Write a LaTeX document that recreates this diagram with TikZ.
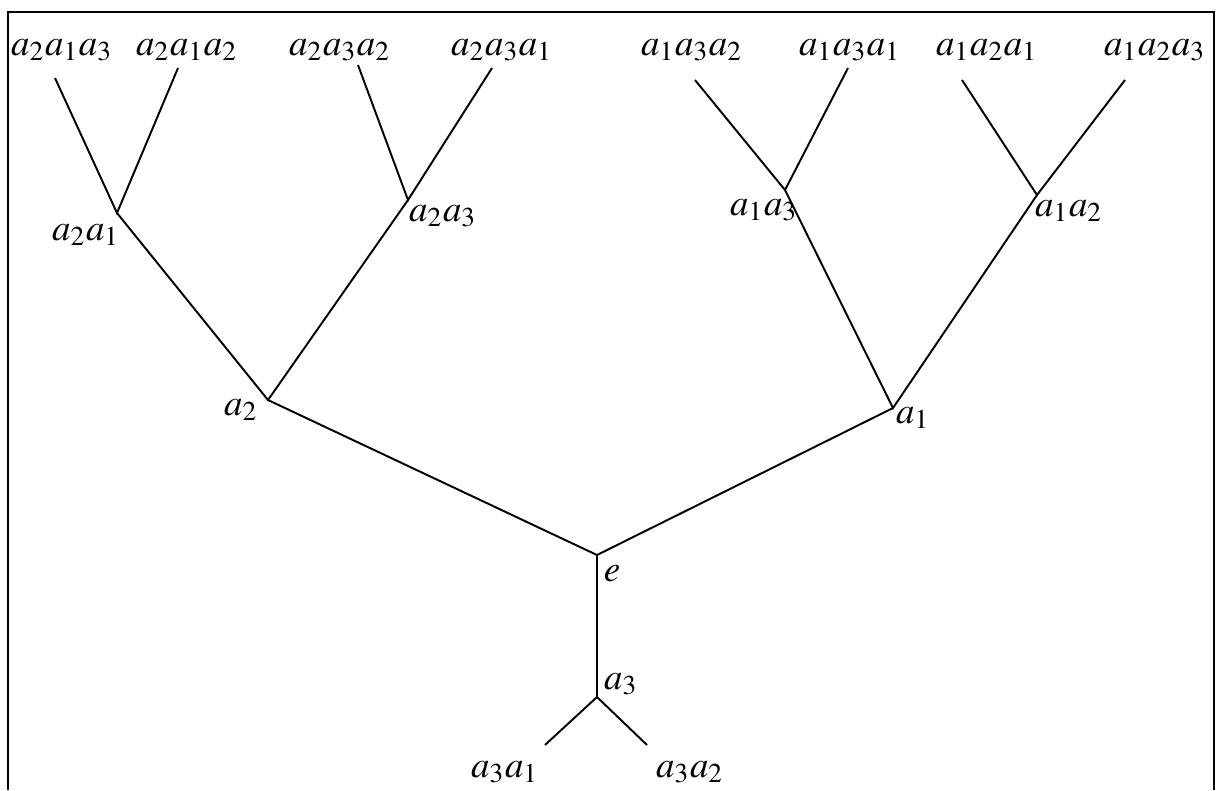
\documentclass[tikz,border=0pt]{standalone}
\usepackage{mathptmx}
\tikzset{lbl/.style={inner sep=0pt, font=\fontsize{10.5}{12}\selectfont},
  edge/.style={line width=0.55pt}}
\begin{document}
\begin{tikzpicture}[x=0.01cm, y=-0.01cm]
\useasboundingbox (0,0) rectangle (1221,790);
\draw[line width=0.7pt] (8,790) -- (8,12) -- (1214,12) -- (1214,790); %%frame
\coordinate (e) at (597,555);
\coordinate (a3) at (597,697);
\coordinate (a2) at (268,400);
\coordinate (a1) at (893,408);
\coordinate (a2a1) at (117,213);
\coordinate (a2a3) at (408,200);
\coordinate (a1a3) at (785,190);
\coordinate (a1a2) at (1037,195);
\coordinate (a3a1) at (545,745);
\coordinate (a3a2) at (647,745);
\coordinate (a2a1a3) at (55,78);
\coordinate (a2a1a2) at (178,68);
\coordinate (a2a3a2) at (358,65);
\coordinate (a2a3a1) at (492,68);
\coordinate (a1a3a2) at (695,80);
\coordinate (a1a3a1) at (848,68);
\coordinate (a1a2a1) at (962,80);
\coordinate (a1a2a3) at (1125,80);
%% edges
\draw[edge] (a2) -- (e) -- (a1);
\draw[edge] (e) -- (a3);
\draw[edge] (a3a1) -- (a3) -- (a3a2);
\draw[edge] (a2a1) -- (a2) -- (a2a3);
\draw[edge] (a1a3) -- (a1) -- (a1a2);
\draw[edge] (a2a1a3) -- (a2a1) -- (a2a1a2);
\draw[edge] (a2a3a2) -- (a2a3) -- (a2a3a1);
\draw[edge] (a1a3a2) -- (a1a3) -- (a1a3a1);
\draw[edge] (a1a2a1) -- (a1a2) -- (a1a2a3);
%% labels
\node[lbl] (t-e) at (612,574) {$e$};
\node[lbl] (t-a3) at (621,684) {$a_3$};
\node[lbl] (t-a2) at (241,410) {$a_2$};
\node[lbl] (t-a1) at (913,418) {$a_1$};
\node[lbl] (t-a3a1) at (505,772) {$a_3a_1$};
\node[lbl] (t-a3a2) at (690,772) {$a_3a_2$};
\node[lbl] (t-a2a1) at (86,235) {$a_2a_1$};
\node[lbl] (t-a2a3) at (443,216) {$a_2a_3$};
\node[lbl] (t-a1a3) at (764,210) {$a_1a_3$};
\node[lbl] (t-a1a2) at (1069,211) {$a_1a_2$};
\node[lbl] (t-a2a1a3) at (62,50) {$a_2a_1a_3$};
\node[lbl] (t-a2a1a2) at (187,50) {$a_2a_1a_2$};
\node[lbl] (t-a2a3a2) at (340,50) {$a_2a_3a_2$};
\node[lbl] (t-a2a3a1) at (502,50) {$a_2a_3a_1$};
\node[lbl] (t-a1a3a2) at (692,50) {$a_1a_3a_2$};
\node[lbl] (t-a1a3a1) at (850,50) {$a_1a_3a_1$};
\node[lbl] (t-a1a2a1) at (987,50) {$a_1a_2a_1$};
\node[lbl] (t-a1a2a3) at (1155,50) {$a_1a_2a_3$};
\end{tikzpicture}
\end{document}
